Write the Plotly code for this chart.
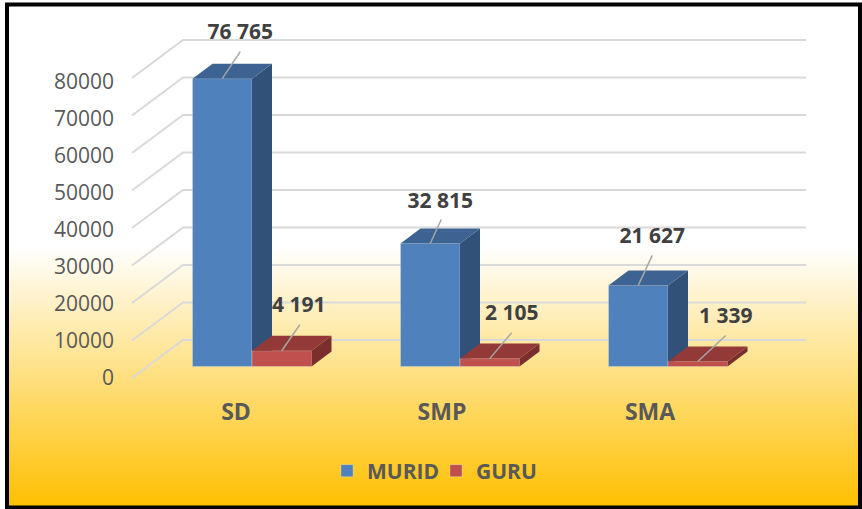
import plotly.graph_objects as go

# ---- data ----
categories = ["SD", "SMP", "SMA"]
murid = [76765, 32815, 21627]
guru = [4191, 2105, 1339]
tick_values = [0, 10000, 20000, 30000, 40000, 50000, 60000, 70000, 80000]

# ---- page geometry (x axis is in page pixels) ----
W, H = 862, 509
PLOT_BOTTOM = 396
K = 0.00375            # px per value unit for the 3-D planes
GRID_ZERO_PX = 378     # px of value 0 on the front of the grid
LIFT = 3067            # bar plane sits this far above the grid front
DEPTH_X, DEPTH_Y = 20, 4000
BAR_W = 59.5
JOINTS = [252, 460, 668]
LABEL_X = [236, 442, 650]
GRID_X = [132, 183, 806]
GRID_RISE = 10133

y_range = [-(PLOT_BOTTOM - GRID_ZERO_PX) / K, GRID_ZERO_PX / K]
k_lab = 0.003706
lab_zero = 378
lab_range = [-(PLOT_BOTTOM - lab_zero) / k_lab, lab_zero / k_lab]

# offsets of leader line end and label centre from the bar top centre, px
MURID_LEAD = [(18, 27), (11, 24), (14, 30)]
MURID_TEXT = [(18, 45), (10, 41), (14, 48)]
GURU_LEAD = [(18, 26), (22, 26), (28, 26)]
GURU_TEXT = [(17, 44), (22, 44), (28, 44)]

BLUE, BLUE_TOP, BLUE_SIDE = "#4F81BD", "#3C6391", "#325179"
RED, RED_TOP, RED_SIDE = "#C0504D", "#933937", "#7A2F2D"
FONT = "Open Sans"


def fmt(v):
    return f"{v:,}".replace(",", " ")


def faces(x_left, values):
    sx, sy, tx, ty = [], [], [], []
    for x0, v in zip(x_left, values):
        x1 = x0 + BAR_W
        top = LIFT + v
        sx += [x1, x1 + DEPTH_X, x1 + DEPTH_X, x1, x1, None]
        sy += [LIFT, LIFT + DEPTH_Y, top + DEPTH_Y, top, LIFT, None]
        tx += [x0, x0 + DEPTH_X, x1 + DEPTH_X, x1, x0, None]
        ty += [top, top + DEPTH_Y, top + DEPTH_Y, top, top, None]
    return sx, sy, tx, ty


def series(name, x_left, values, front, top_c, side_c, yaxis):
    sx, sy, tx, ty = faces(x_left, values)
    out = [
        go.Bar(x=[x + BAR_W / 2 for x in x_left], y=values, base=LIFT, width=BAR_W,
               name=name, marker=dict(color=front, line=dict(color="rgba(225,225,225,0.35)", width=1)),
               yaxis=yaxis, hoverinfo="skip"),
    ]
    for fx, fy, c in ((sx, sy, side_c), (tx, ty, top_c)):
        out.append(go.Scatter(x=fx, y=fy, mode="lines", fill="toself", fillcolor=c,
                              line=dict(width=0, color=c), showlegend=False,
                              yaxis=yaxis, hoverinfo="skip"))
    return out


def labels(x_left, values, lead, text, yaxis):
    lx, ly, tx, ty = [], [], [], []
    for x0, v, (ldx, ldy), (tdx, tdy) in zip(x_left, values, lead, text):
        xc = x0 + BAR_W / 2
        yc = LIFT + v
        lx += [xc, xc + ldx, None]
        ly += [yc, yc + ldy / K, None]
        tx.append(xc + tdx)
        ty.append(yc + tdy / K)
    return [
        go.Scatter(x=lx, y=ly, mode="lines", line=dict(color="#A6A6A6", width=1.5),
                   showlegend=False, yaxis=yaxis, hoverinfo="skip"),
        go.Scatter(x=tx, y=ty, mode="text", text=[fmt(v) for v in values],
                   textposition="middle center",
                   textfont=dict(family=FONT, size=21, color="#404040", weight="bold"),
                   showlegend=False, yaxis=yaxis, hoverinfo="skip"),
    ]


fig = go.Figure()

# axis that carries the value tick labels
fig.add_trace(go.Scatter(x=[GRID_X[0]] * len(tick_values), y=tick_values, mode="lines",
                         line=dict(width=0), showlegend=False, hoverinfo="skip"))

# grid (floor/wall lines)
gx, gy = [], []
for t in tick_values:
    gx += GRID_X + [None]
    gy += [t, t + GRID_RISE, t + GRID_RISE, None]
fig.add_trace(go.Scatter(x=gx, y=gy, mode="lines", line=dict(color="#D9D9D9", width=2),
                         showlegend=False, yaxis="y2", hoverinfo="skip"))

blue_left = [j - BAR_W for j in JOINTS]
red_left = list(JOINTS)
fig.add_traces(series("MURID", blue_left, murid, BLUE, BLUE_TOP, BLUE_SIDE, "y3"))
fig.add_traces(series("GURU", red_left, guru, RED, RED_TOP, RED_SIDE, "y4"))
fig.add_traces(labels(blue_left, murid, MURID_LEAD, MURID_TEXT, "y4"))
fig.add_traces(labels(red_left, guru, GURU_LEAD, GURU_TEXT, "y4"))

# background gradient, drawn as overlapping strips
shapes = []
G0, G1 = 245, 507
for px in range(G0, G1 + 1):
    f = (px - G0) / (G1 - G0)
    col = f"rgb(255,{round(255 - 63 * f)},{round(255 * (1 - f))})"
    shapes.append(dict(type="rect", xref="paper", yref="paper", layer="below",
                       x0=8 / W, x1=860 / W,
                       y0=(PLOT_BOTTOM - px) / PLOT_BOTTOM,
                       y1=(PLOT_BOTTOM - 507) / PLOT_BOTTOM,
                       fillcolor=col, line=dict(width=0)))
# black frame
shapes.append(dict(type="rect", xref="paper", yref="paper", layer="above",
                   x0=7 / W, x1=860 / W, y0=(PLOT_BOTTOM - 507.5) / PLOT_BOTTOM,
                   y1=(PLOT_BOTTOM - 4.5) / PLOT_BOTTOM,
                   fillcolor="rgba(0,0,0,0)", line=dict(color="black", width=4)))

hidden = dict(range=y_range, visible=False, overlaying="y", fixedrange=True)
fig.update_layout(
    width=W, height=H,
    margin=dict(l=0, r=0, t=0, b=H - PLOT_BOTTOM),
    paper_bgcolor="white", plot_bgcolor="rgba(0,0,0,0)",
    barmode="overlay", shapes=shapes,
    xaxis=dict(range=[0, W], tickmode="array", tickvals=LABEL_X, ticktext=categories,
               showgrid=False, zeroline=False, showline=False, ticks="",
               tickfont=dict(family=FONT, size=23, color="#595959", weight="bold"),
               fixedrange=True),
    yaxis=dict(range=lab_range, tickmode="array", tickvals=tick_values,
               ticktext=[str(t) for t in tick_values],
               showgrid=False, zeroline=False, showline=False, ticks="",
               anchor="free", position=114 / W, side="left",
               tickfont=dict(family=FONT, size=21, color="#595959"),
               fixedrange=True),
    yaxis2=dict(hidden),
    yaxis3=dict(hidden),
    yaxis4=dict(hidden),
    legend=dict(orientation="h", xanchor="center", x=436 / W, yanchor="middle",
                y=(PLOT_BOTTOM - 471) / PLOT_BOTTOM,
                entrywidth=64, entrywidthmode="pixels",
                bgcolor="rgba(0,0,0,0)", traceorder="normal",
                font=dict(family=FONT, size=21, color="#595959", weight="bold")),
)
fig.write_html("out.html", config={"displayModeBar": False},
               post_script="document.body.style.margin='0';document.body.style.overflow='hidden';")
